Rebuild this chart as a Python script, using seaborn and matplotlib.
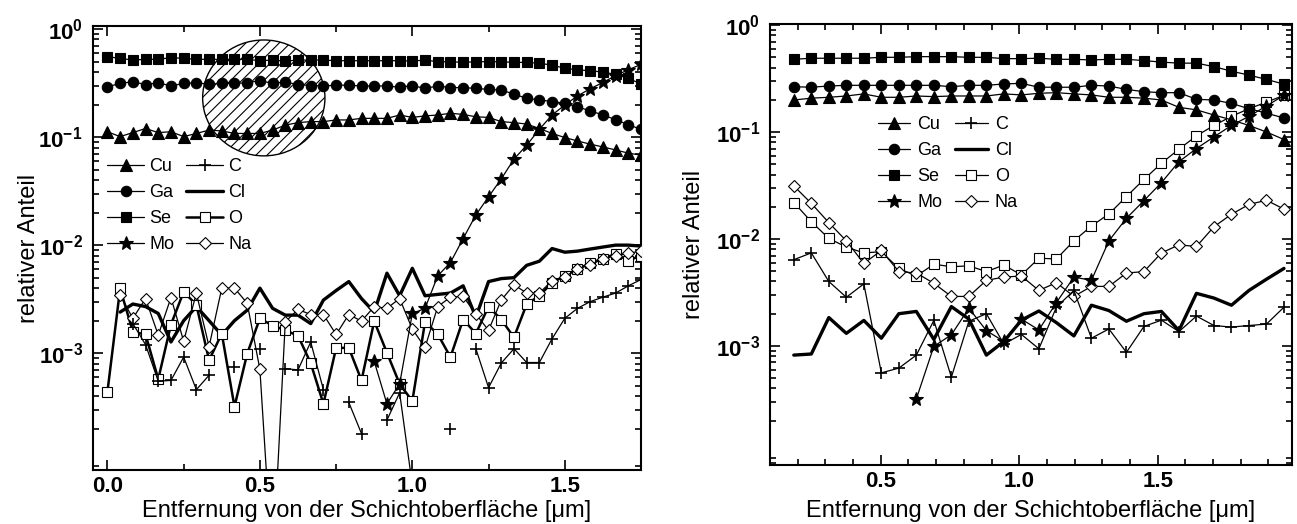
import numpy as np
import pandas as pd
import matplotlib
matplotlib.use("Agg")
import matplotlib.pyplot as plt
import seaborn as sns
from matplotlib.lines import Line2D
from matplotlib.patches import Ellipse
from matplotlib.ticker import LogLocator, NullFormatter, MultipleLocator

# ---------------- data: left panel (43 depth points, 0 ... 1.75 um) ----------------
depth_left = np.linspace(0.0, 1.75, 43)
NaN = np.nan
cu_left = [0.112, 0.101, 0.110, 0.120, 0.110, 0.112, 0.101, 0.108, 0.116, 0.114, 0.108, 0.108, 0.108,
           0.116, 0.129, 0.136, 0.139, 0.139, 0.144, 0.144, 0.149, 0.149, 0.149, 0.160, 0.152, 0.157,
           0.160, 0.166, 0.162, 0.154, 0.152, 0.139, 0.136, 0.132, 0.120, 0.108, 0.099, 0.092, 0.086,
           0.081, 0.076, 0.071, 0.068]
ga_left = [0.292, 0.314, 0.325, 0.306, 0.318, 0.297, 0.314, 0.318, 0.309, 0.314, 0.314, 0.318, 0.333,
           0.314, 0.323, 0.306, 0.300, 0.297, 0.302, 0.302, 0.297, 0.297, 0.297, 0.289, 0.299, 0.282,
           0.297, 0.287, 0.287, 0.282, 0.276, 0.272, 0.250, 0.228, 0.221, 0.213, 0.206, 0.190, 0.175,
           0.160, 0.145, 0.130, 0.118]
se_left = [0.554, 0.535, 0.516, 0.524, 0.524, 0.543, 0.535, 0.524, 0.524, 0.524, 0.524, 0.524, 0.509,
           0.516, 0.505, 0.516, 0.516, 0.516, 0.509, 0.509, 0.509, 0.509, 0.509, 0.509, 0.505, 0.516,
           0.498, 0.498, 0.491, 0.498, 0.498, 0.498, 0.491, 0.491, 0.481, 0.464, 0.432, 0.420, 0.410,
           0.400, 0.380, 0.350, 0.310]
mo_left = [NaN] * 21 + [8.4e-4, 3.4e-4, 5.2e-4, 2.33e-3, 2.6e-3, 5.2e-3, 6.9e-3, 1.15e-2, 1.9e-2,
                        2.8e-2, 4.1e-2, 6.25e-2, 8.4e-2, 0.118, 0.160, 0.198, 0.240, 0.280, 0.320,
                        0.370, 0.420, 0.470]
c_left = [NaN, NaN, 1.88e-3, 1.2e-3, 5.5e-4, 5.6e-4, 9.2e-4, 4.6e-4, 6.25e-4, NaN, 7.4e-4, NaN, 1.1e-3,
          NaN, 7.2e-4, 7.0e-4, 1.27e-3, 4.6e-4, NaN, 3.5e-4, 1.8e-4, NaN, 2.4e-4, 4.3e-4, 6e-5, NaN,
          NaN, 2.0e-4, NaN, 1.1e-3, 4.8e-4, 8.1e-4, 1.1e-3, 8.2e-4, 8.2e-4, 1.36e-3, 2.1e-3, 2.6e-3,
          3.0e-3, 3.3e-3, 3.6e-3, 4.2e-3, 4.8e-3]
cl_left = [NaN, 2.4e-3, 2.85e-3, 2.7e-3, 2.33e-3, 1.27e-3, 2.0e-3, 2.7e-3, 2.0e-3, 1.47e-3, 2.0e-3,
           2.5e-3, 4.0e-3, 2.6e-3, 2.25e-3, 2.25e-3, 1.88e-3, 3.1e-3, 3.8e-3, 4.6e-3, 3.2e-3, 2.4e-3,
           5.5e-3, 3.4e-3, 6.1e-3, 3.4e-3, 3.5e-3, 3.6e-3, 4.2e-3, 2.15e-3, 4.6e-3, 4.9e-3, 5.0e-3,
           6.5e-3, 7.1e-3, 9.3e-3, 8.6e-3, 8.8e-3, 9.2e-3, 9.6e-3, 1.0e-2, 1.0e-2, 9.8e-3]
o_left = [4.4e-4, 3.97e-3, 1.58e-3, 1.49e-3, 5.75e-4, 1.84e-3, 3.7e-3, 2.8e-3, 8.6e-4, 1.52e-3, 3.2e-4,
          9.9e-4, 2.1e-3, 1.8e-3, 1.63e-3, 1.45e-3, 8.1e-4, 3.4e-4, 1.12e-3, 1.12e-3, 5.6e-4, 1.98e-3,
          1.01e-3, 5.2e-4, 3.6e-4, 1.95e-3, 1.5e-3, 9.2e-4, 2.05e-3, 1.52e-3, 2.7e-3, 2.05e-3, 1.4e-3,
          2.84e-3, 3.4e-3, 4.5e-3, 5.2e-3, 6.0e-3, 6.8e-3, 7.5e-3, 8.3e-3, 7.2e-3, 8.0e-3]
na_left = [NaN, 3.44e-3, 2.1e-3, 3.2e-3, 1.47e-3, 3.27e-3, 1.29e-3, 3.6e-3, 1.15e-3, 4.0e-3, 4.0e-3,
           2.9e-3, 7.1e-4, 1e-5, 1.95e-3, 2.54e-3, 2.28e-3, 2.28e-3, 1.49e-3, 2.28e-3, 1.98e-3, 2.7e-3,
           2.6e-3, 3.2e-3, 1.67e-3, 1.13e-3, 2.7e-3, 3.3e-3, 3.35e-3, 2.3e-3, 1.63e-3, 3.1e-3, 4.3e-3,
           3.6e-3, 3.6e-3, 4.7e-3, 5.1e-3, 6.0e-3, 6.6e-3, 7.4e-3, 8.0e-3, 8.4e-3, 8.8e-3]

# ---------------- data: right panel (29 depth points) ----------------
depth_right = np.linspace(0.186, 1.956, 29)
cu_right = [0.199, 0.207, 0.211, 0.217, 0.227, 0.211, 0.211, 0.217, 0.214, 0.217, 0.217, 0.217, 0.227,
            0.222, 0.230, 0.233, 0.227, 0.222, 0.211, 0.211, 0.207, 0.199, 0.170, 0.161, 0.144, 0.130,
            0.115, 0.100, 0.085]
ga_right = [0.265, 0.262, 0.269, 0.273, 0.273, 0.273, 0.273, 0.273, 0.273, 0.265, 0.273, 0.273, 0.281,
            0.285, 0.262, 0.262, 0.262, 0.273, 0.269, 0.250, 0.238, 0.233, 0.233, 0.202, 0.199, 0.185,
            0.165, 0.150, 0.135]
se_right = [0.478, 0.489, 0.489, 0.489, 0.489, 0.499, 0.499, 0.506, 0.506, 0.506, 0.499, 0.499, 0.485,
            0.485, 0.489, 0.478, 0.478, 0.471, 0.478, 0.478, 0.465, 0.450, 0.440, 0.440, 0.408, 0.370,
            0.340, 0.310, 0.280]
mo_right = [NaN] * 7 + [3.2e-4, 9.9e-4, 1.27e-3, 2.25e-3, 1.39e-3, 1.1e-3, 1.78e-3, 1.41e-3, 2.54e-3,
                        4.4e-3, 4.1e-3, 9.6e-3, 0.0156, 0.0228, 0.0336, 0.0528, 0.070, 0.090, 0.115,
                        0.140, 0.175, 0.220]
c_right = [6.4e-3, 7.4e-3, 4.0e-3, 2.85e-3, 3.8e-3, 5.6e-4, 6.2e-4, 8.2e-4, 1.73e-3, 5.1e-4, 1.7e-3,
           2.0e-3, 1.04e-3, 1.28e-3, 9.4e-4, 2.3e-3, 3.3e-3, 1.18e-3, 1.44e-3, 8.7e-4, 1.52e-3, 1.74e-3,
           1.36e-3, 1.9e-3, 1.55e-3, 1.5e-3, 1.55e-3, 1.6e-3, 2.3e-3]
cl_right = [8.2e-4, 8.4e-4, 1.84e-3, 1.31e-3, 1.73e-3, 1.18e-3, 2.0e-3, 2.1e-3, 1.15e-3, 2.33e-3, 1.78e-3,
            8.2e-4, 1.1e-3, 1.74e-3, 2.12e-3, 1.65e-3, 1.24e-3, 2.4e-3, 2.14e-3, 1.7e-3, 2.0e-3, 2.1e-3,
            1.39e-3, 3.1e-3, 2.8e-3, 2.4e-3, 3.3e-3, 4.2e-3, 5.3e-3]
o_right = [0.0219, 0.0145, 0.0101, 8.4e-3, 7.4e-3, 7.6e-3, 5.3e-3, 4.5e-3, 5.8e-3, 5.5e-3, 5.6e-3,
           4.95e-3, 5.7e-3, 4.6e-3, 6.6e-3, 6.5e-3, 9.6e-3, 0.0132, 0.0171, 0.0249, 0.036, 0.051, 0.069,
           0.092, 0.115, 0.140, 0.165, 0.190, 0.220]
na_right = [0.0313, 0.0215, 0.0142, 9.6e-3, 5.9e-3, 7.8e-3, 4.95e-3, 4.8e-3, 3.85e-3, 2.9e-3, 2.9e-3,
            4.1e-3, 4.4e-3, 4.5e-3, 3.3e-3, 3.9e-3, 2.9e-3, 3.6e-3, 3.6e-3, 4.8e-3, 4.95e-3, 7.4e-3,
            8.8e-3, 8.5e-3, 0.013, 0.017, 0.021, 0.023, 0.019]

elements = ["Cu", "Ga", "Se", "Mo", "C", "Cl", "O", "Na"]
left_data = dict(Cu=cu_left, Ga=ga_left, Se=se_left, Mo=mo_left, C=c_left, Cl=cl_left, O=o_left, Na=na_left)
right_data = dict(Cu=cu_right, Ga=ga_right, Se=se_right, Mo=mo_right, C=c_right, Cl=cl_right,
                  O=o_right, Na=na_right)

x_ticks_left = [0.0, 0.5, 1.0, 1.5]
x_ticks_right = [0.5, 1.0, 1.5]
y_ticks = [1.0, 0.1, 0.01, 0.001]
y_tick_labels = [r"$\mathbf{10^{0}}$", r"$\mathbf{10^{-1}}$", r"$\mathbf{10^{-2}}$", r"$\mathbf{10^{-3}}$"]
ylabel_text = "relativer Anteil"
xlabel_text = "Entfernung von der Schichtoberfläche [μm]"

# ---------------- style ----------------
sns.set_theme(style="ticks")
FONT = ["Liberation Sans", "DejaVu Sans"]
plt.rcParams["font.family"] = FONT
plt.rcParams.update({
    "mathtext.fontset": "custom",
    "mathtext.rm": "Liberation Sans",
    "mathtext.bf": "Liberation Sans:bold",
    "mathtext.it": "Liberation Sans:italic",
    "hatch.linewidth": 0.8,
    "axes.linewidth": 1.5,
    "axes.edgecolor": "black",
    "text.color": "black",
    "axes.labelcolor": "black",
    "xtick.color": "black",
    "ytick.color": "black",
})

base = dict(color="black", linewidth=0.9, markeredgecolor="black", markeredgewidth=0.8)


def styles(o_lw):
    return {
        "Cu": dict(base, marker="^", markersize=8.5, markerfacecolor="black"),
        "Ga": dict(base, marker="o", markersize=7.5, markerfacecolor="black"),
        "Se": dict(base, marker="s", markersize=7, markerfacecolor="black"),
        "Mo": dict(base, marker="*", markersize=10, markerfacecolor="black"),
        "C": dict(base, marker="+", markersize=8, markeredgewidth=1.2),
        "Cl": dict(base, linewidth=2.4, marker=""),
        "O": dict(base, linewidth=o_lw, marker="s", markersize=6.5, markerfacecolor="white"),
        "Na": dict(base, marker="D", markersize=6, markerfacecolor="white"),
    }


def draw_series(ax, x, y, style, z):
    y = np.asarray(y, dtype=float)
    x = np.asarray(x, dtype=float)
    idx = np.where(~np.isnan(y))[0]
    if len(idx) == 0:
        return
    runs = np.split(idx, np.where(np.diff(idx) != 1)[0] + 1)
    for r in runs:
        df = pd.DataFrame({"depth": x[r], "value": y[r]})
        sns.lineplot(data=df, x="depth", y="value", ax=ax, estimator=None, sort=False,
                     legend=False, zorder=z, **style)


W, H = 1297, 524
fig = plt.figure(figsize=(W / 100, H / 100), dpi=100)
ax1 = fig.add_axes([92.5 / W, 1 - 470 / H, 548.5 / W, 444 / H])
ax2 = fig.add_axes([770 / W, 1 - 465 / H, 522 / W, 441 / H])

# (axes, x, data, styles, xlim, ylim, xticks, minor step, legend anchor px, handlelength,
#  handletextpad, columnspacing)
panels = [
    (ax1, depth_left, left_data, styles(1.8), (-0.049, 1.75), (8.3e-5, 1.066), x_ticks_left, 0.25,
     (107, 158), 2.05, 0.3, 0.65),
    (ax2, depth_right, right_data, styles(0.9), (0.10, 1.985), (7.7e-5, 1.022), x_ticks_right, 0.1,
     (878, 116), 1.78, 0.4, 0.72),
]

for ax, xs, data, sty, xlim, ylim, xt, xminor, legpos, hlen, htp, csp in panels:
    order = ["Cl", "O", "Na", "C", "Mo", "Cu", "Ga", "Se"]
    for k, el in enumerate(order):
        draw_series(ax, xs, data[el], sty[el], 3 + k * 0.1)
    ax.set_yscale("log")
    ax.set_xlim(*xlim)
    ax.set_ylim(*ylim)
    ax.set_xticks(xt, labels=[f"{v:.1f}" for v in xt], fontweight="bold", fontsize=16)
    ax.xaxis.set_minor_locator(MultipleLocator(xminor))
    ax.set_yticks(y_ticks, labels=y_tick_labels, fontsize=16)
    ax.yaxis.set_minor_locator(LogLocator(base=10, subs=np.arange(2, 10), numticks=30))
    ax.yaxis.set_minor_formatter(NullFormatter())
    ax.tick_params(which="both", direction="in", top=True, right=True, width=1.2, colors="black")
    ax.tick_params(which="major", length=7)
    ax.tick_params(which="minor", length=4)
    ax.tick_params(axis="x", which="major", pad=4)
    ax.tick_params(axis="y", which="major", pad=7)
    for s in ax.spines.values():
        s.set_visible(True)
        s.set_linewidth(1.5)
        s.set_color("black")
    ax.set_xlabel(xlabel_text, fontsize=17)
    ax.set_ylabel(ylabel_text, fontsize=17)
    ax.set_facecolor("white")

    handles = [Line2D([], [], **sty[el]) for el in elements]
    ax.legend(handles=handles, labels=elements, ncol=2, frameon=False, loc="upper left",
              bbox_to_anchor=(legpos[0] / W, 1 - legpos[1] / H), bbox_transform=fig.transFigure,
              fontsize=13, handlelength=hlen, handletextpad=htp, columnspacing=csp,
              labelspacing=0.5, borderpad=0, borderaxespad=0)

ax1.yaxis.set_label_coords(-0.096, 0.5)
ax2.yaxis.set_label_coords(-0.1245, 0.5)
ax1.xaxis.set_label_coords(0.5, -0.068)
ax2.xaxis.set_label_coords(0.5, -0.080)

# hatched marker circle in the left panel
circle = Ellipse((0.3123, 0.838), 0.223, 0.261, transform=ax1.transAxes, facecolor="none",
                 edgecolor="black", hatch="///", linewidth=1.0, zorder=2)
ax1.add_patch(circle)

fig.savefig("out.png", dpi=100, facecolor="white")
